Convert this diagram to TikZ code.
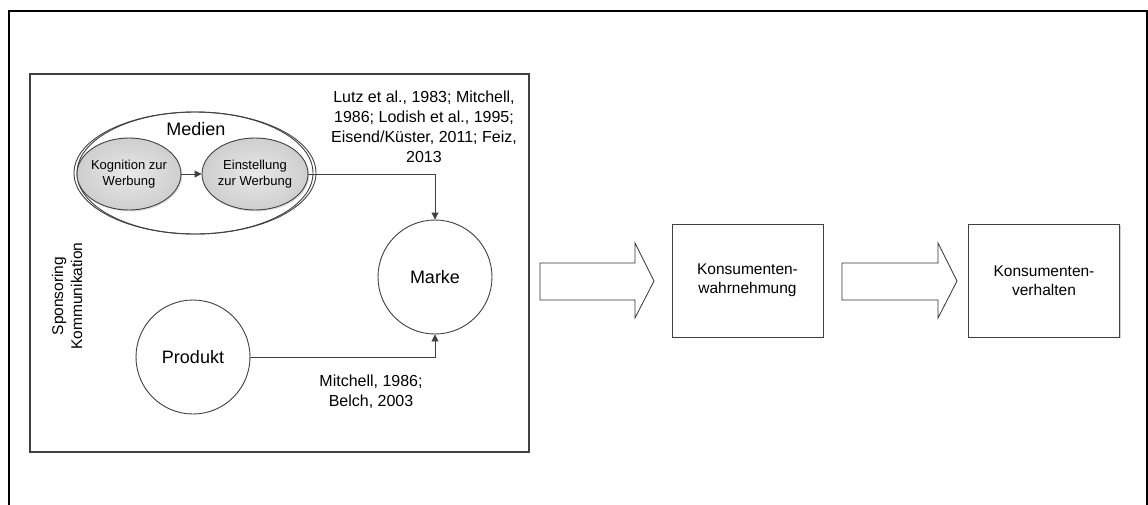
\documentclass[tikz,border=0pt]{standalone}
\usepackage{fontspec}
\setmainfont{Liberation Sans}
\usetikzlibrary{shapes.geometric,arrows.meta,shadows}

\tikzset{
  ln/.style={draw=black!75, line width=0.9pt},
  tip/.style={-{Triangle[length=7pt,width=7pt]}},
  bigtxt/.style={font=\fontsize{18}{21.6}\selectfont, inner sep=0pt},
  citetxt/.style={font=\fontsize{16}{20}\selectfont, align=center, inner sep=0pt},
  smalltxt/.style={font=\fontsize{13}{16}\selectfont, align=center, inner sep=0pt},
  boxtxt/.style={font=\fontsize{15.5}{19}\selectfont, align=center, inner sep=0pt},
  oval/.style={ellipse, ln, inner sep=0pt,
    inner color=gray!18, outer color=gray!38,
    drop shadow={shadow xshift=1.2pt, shadow yshift=-1.5pt, opacity=0.25}},
  ring/.style={circle, ln, inner sep=0pt, minimum size=114pt, fill=white},
  stage/.style={rectangle, ln, inner sep=0pt, minimum width=151pt, minimum height=113pt,
    fill=white, drop shadow={shadow xshift=1pt, shadow yshift=-1pt, opacity=0.35}},
  blockarrow/.style={draw=black!80, line width=0.8pt, fill=white, line join=miter},
}

\begin{document}
\begin{tikzpicture}[x=1pt, y=-1pt]
  \useasboundingbox (0,0) rectangle (1148,504);
  \fill[white] (0,0) rectangle (1148,504);

  % outer frame (open at the bottom edge of the page)
  \draw[black, line width=2.4pt] (9,520) -- (9,11) -- (1147,11) -- (1147,520);

  % communication panel
  \draw[draw=black!75, line width=1.3pt] (30,74) rectangle (529,452);

  % media group with its two stages
  \draw[ln] (195,173) ellipse [x radius=121, y radius=61];
  \draw[ln] (195,173) ellipse [x radius=118, y radius=61];
  \node[bigtxt] (medien) at (196,129) {Medien};

  \node[oval, minimum width=104pt, minimum height=72pt] (kog) at (129,174) {};
  \node[smalltxt] (kogtxt) at (kog.center) {Kognition zur\\Werbung};
  \node[oval, minimum width=106pt, minimum height=72pt] (einst) at (255,174) {};
  \node[smalltxt] (einsttxt) at (einst.center) {Einstellung\\zur Werbung};
  \draw[ln, tip] (kog.east) -- (einst.west);

  % brand and product
  \node[ring] (marke) at (435,277) {};
  \node[bigtxt] (marketxt) at (marke.center) {Marke};
  \node[ring] (prod) at (193,357) {};
  \node[bigtxt] (prodtxt) at (prod.center) {Produkt};

  \draw[ln, tip] (einst.east) -| (marke.north);
  \draw[ln, tip] (prod.east) -| (marke.south);

  % references
  \node[citetxt] (lutz) at (424,127) {Lutz et al., 1983; Mitchell,\\1986; Lodish et al., 1995;\\Eisend/Küster, 2011; Feiz,\\2013};
  \node[citetxt] (mitchell) at (371,392) {Mitchell, 1986;\\Belch, 2003};

  % side caption
  \node[boxtxt, rotate=90] (sponsor) at (67,296) {Sponsoring\\Kommunikation};

  % block arrows
  \draw[blockarrow] (540,263) -- (635,263) -- (635,243) -- (654,281) -- (635,318)
    -- (635,300) -- (540,300) -- cycle;
  \draw[blockarrow] (842,263) -- (938,263) -- (938,243) -- (957,281) -- (938,318)
    -- (938,300) -- (842,300) -- cycle;

  % consumer stages
  \node[stage] (wahr) at (747.5,280.5) {};
  \node[boxtxt] (wahrtxt) at (wahr.center) {Konsumenten-\\wahrnehmung};
  \node[stage] (verh) at (1044,280.5) {};
  \node[boxtxt] (verhtxt) at (verh.center) {Konsumenten-\\verhalten};
\end{tikzpicture}
\end{document}
